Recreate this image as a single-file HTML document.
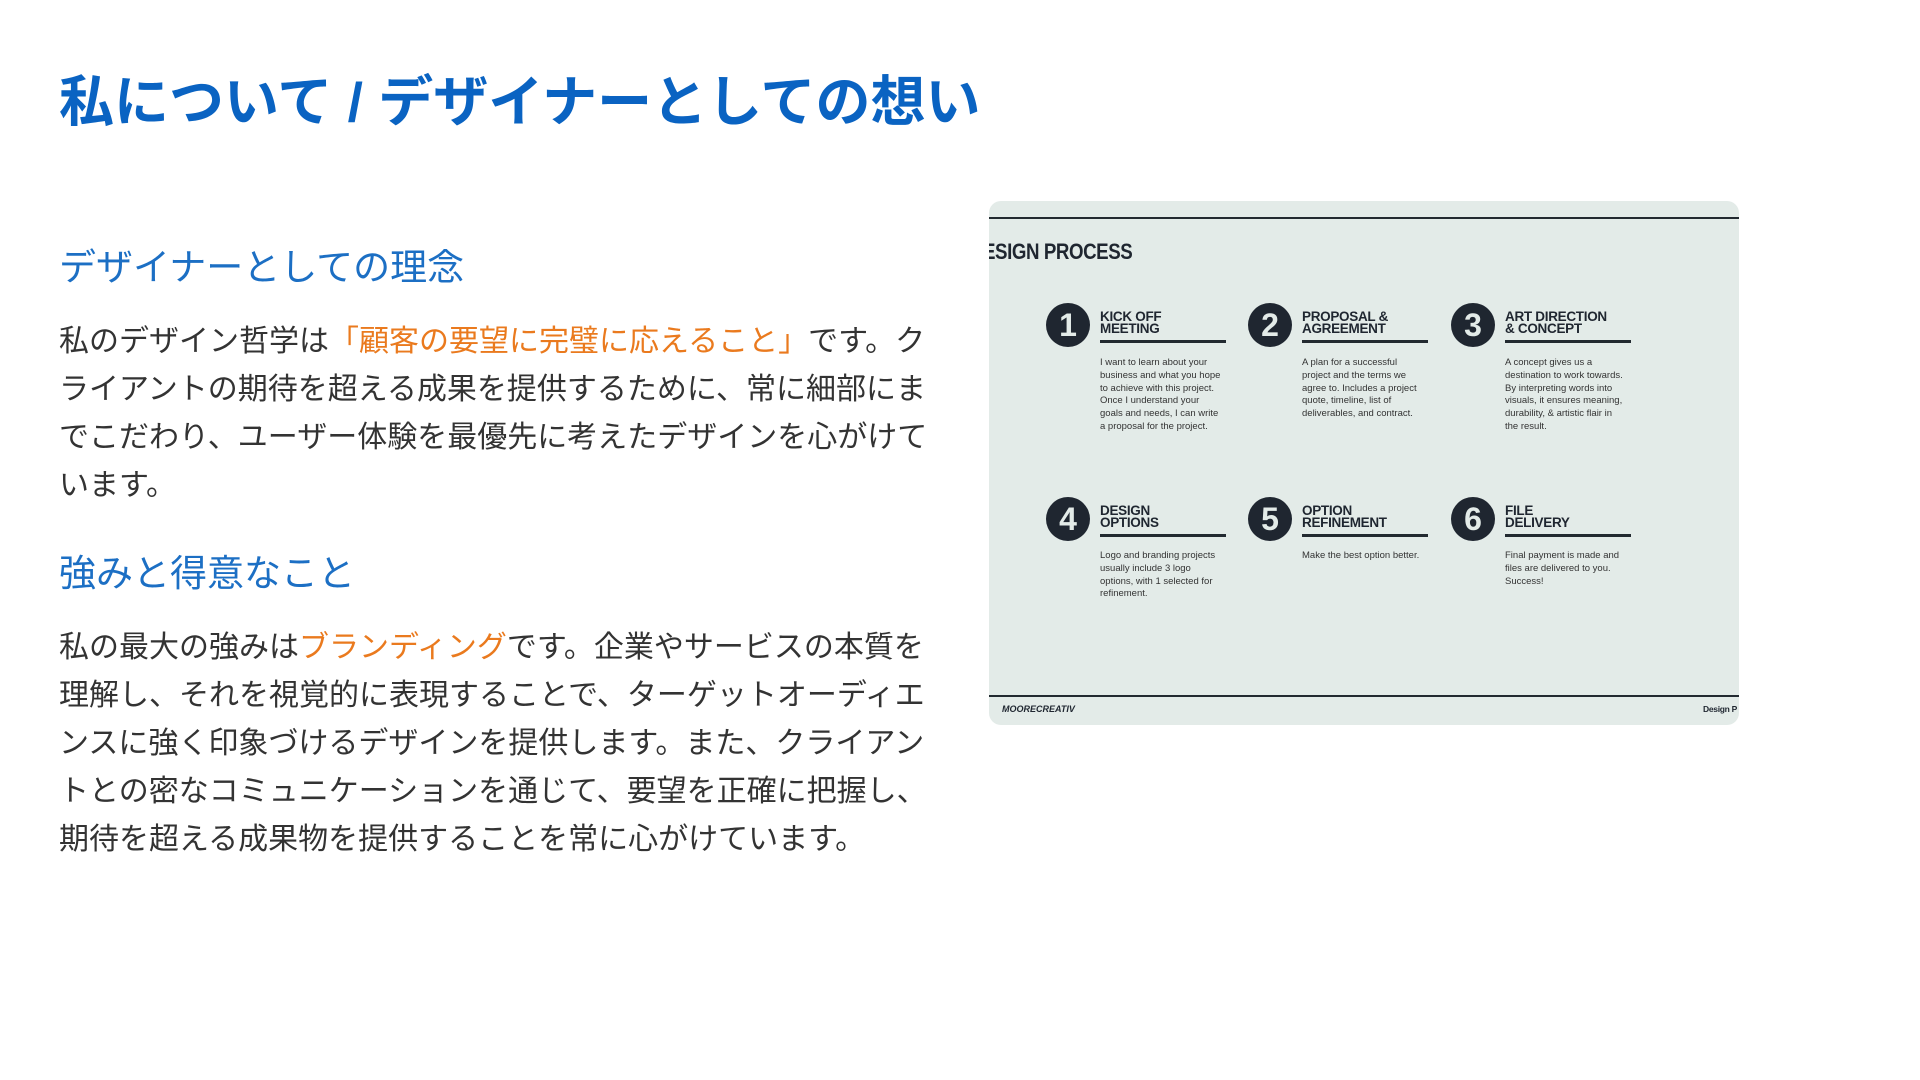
<!DOCTYPE html>
<html><head><meta charset="utf-8"><style>
*{margin:0;padding:0;box-sizing:border-box}
body{width:1920px;height:1080px;background:#fff;position:relative;overflow:hidden;font-family:"Liberation Sans","Noto Sans CJK JP",sans-serif}
.a{position:absolute;white-space:nowrap}
h1{position:absolute;left:59px;top:69px;font-size:55px;font-weight:bold;color:#0a63c2;line-height:66px;white-space:nowrap}
.h2{position:absolute;left:59px;font-size:37px;color:#1c6fc4;line-height:44px;white-space:nowrap}
.p{position:absolute;left:59px;font-size:30px;line-height:48px;color:#333;white-space:nowrap}
.o{color:#ea7a1e}
.card{position:absolute;left:989px;top:201px;width:750px;height:524px;background:#e3ebe8;border-radius:12px;overflow:hidden}
.ln{position:absolute;background:#222a30}
.c{position:absolute;width:44px;height:44px;border-radius:50%;background:#1f2630;color:#e3ebe8;font-weight:bold;font-size:32px;line-height:44px;text-align:center}
.hd{position:absolute;font-weight:900;font-size:13.5px;line-height:12px;color:#1f2630;letter-spacing:-0.3px}
.bd{position:absolute;font-size:9.5px;line-height:12.8px;color:#333;font-family:"Liberation Sans Narrow","Liberation Sans",sans-serif}
</style></head><body>
<h1>私について / デザイナーとしての想い</h1>
<div class="h2" style="top:246px">デザイナーとしての理念</div>
<div class="p" style="top:318px">私のデザイン哲学は<span class="o">「顧客の要望に完璧に応えること」</span>です。ク<br>ライアントの期待を超える成果を提供するために、常に細部にま<br>でこだわり、ユーザー体験を最優先に考えたデザインを心がけて<br>います。</div>
<div class="h2" style="top:552px">強みと得意なこと</div>
<div class="p" style="top:624px">私の最大の強みは<span class="o">ブランディング</span>です。企業やサービスの本質を<br>理解し、それを視覚的に表現することで、ターゲットオーディエ<br>ンスに強く印象づけるデザインを提供します。また、クライアン<br>トとの密なコミュニケーションを通じて、要望を正確に把握し、<br>期待を超える成果物を提供することを常に心がけています。</div>

<div class="card">
<div class="ln" style="left:0;top:16px;width:750px;height:2px"></div>
<div class="a" style="left:-6px;top:38px;font-size:22px;font-weight:900;color:#1f2630;transform:scaleX(0.85);transform-origin:left;letter-spacing:-0.5px">ESIGN PROCESS</div>

<div class="c" style="left:57px;top:102px">1</div>
<div class="hd" style="left:111px;top:110px">KICK OFF<br>MEETING</div>
<div class="ln" style="left:111px;top:139px;width:126px;height:3px"></div>
<div class="bd" style="left:111px;top:156px">I want to learn about your<br>business and what you hope<br>to achieve with this project.<br>Once I understand your<br>goals and needs, I can write<br>a proposal for the project.</div>

<div class="c" style="left:259px;top:102px">2</div>
<div class="hd" style="left:313px;top:110px">PROPOSAL &amp;<br>AGREEMENT</div>
<div class="ln" style="left:313px;top:139px;width:126px;height:3px"></div>
<div class="bd" style="left:313px;top:156px">A plan for a successful<br>project and the terms we<br>agree to. Includes a project<br>quote, timeline, list of<br>deliverables, and contract.</div>

<div class="c" style="left:462px;top:102px">3</div>
<div class="hd" style="left:516px;top:110px">ART DIRECTION<br>&amp; CONCEPT</div>
<div class="ln" style="left:516px;top:139px;width:126px;height:3px"></div>
<div class="bd" style="left:516px;top:156px">A concept gives us a<br>destination to work towards.<br>By interpreting words into<br>visuals, it ensures meaning,<br>durability, &amp; artistic flair in<br>the result.</div>

<div class="c" style="left:57px;top:296px">4</div>
<div class="hd" style="left:111px;top:304px">DESIGN<br>OPTIONS</div>
<div class="ln" style="left:111px;top:333px;width:126px;height:3px"></div>
<div class="bd" style="left:111px;top:349px">Logo and branding projects<br>usually include 3 logo<br>options, with 1 selected for<br>refinement.</div>

<div class="c" style="left:259px;top:296px">5</div>
<div class="hd" style="left:313px;top:304px">OPTION<br>REFINEMENT</div>
<div class="ln" style="left:313px;top:333px;width:126px;height:3px"></div>
<div class="bd" style="left:313px;top:349px">Make the best option better.</div>

<div class="c" style="left:462px;top:296px">6</div>
<div class="hd" style="left:516px;top:304px">FILE<br>DELIVERY</div>
<div class="ln" style="left:516px;top:333px;width:126px;height:3px"></div>
<div class="bd" style="left:516px;top:349px">Final payment is made and<br>files are delivered to you.<br>Success!</div>

<div class="ln" style="left:0;top:494px;width:750px;height:2px"></div>
<div class="a" style="left:13px;top:503px;font-size:9px;font-weight:900;font-style:italic;color:#1f2630">MOORECREATIV</div>
<div class="a" style="left:714px;top:503px;font-size:8.5px;font-weight:bold;color:#1f2630;letter-spacing:-0.3px">Design P</div>
</div>
</body></html>
